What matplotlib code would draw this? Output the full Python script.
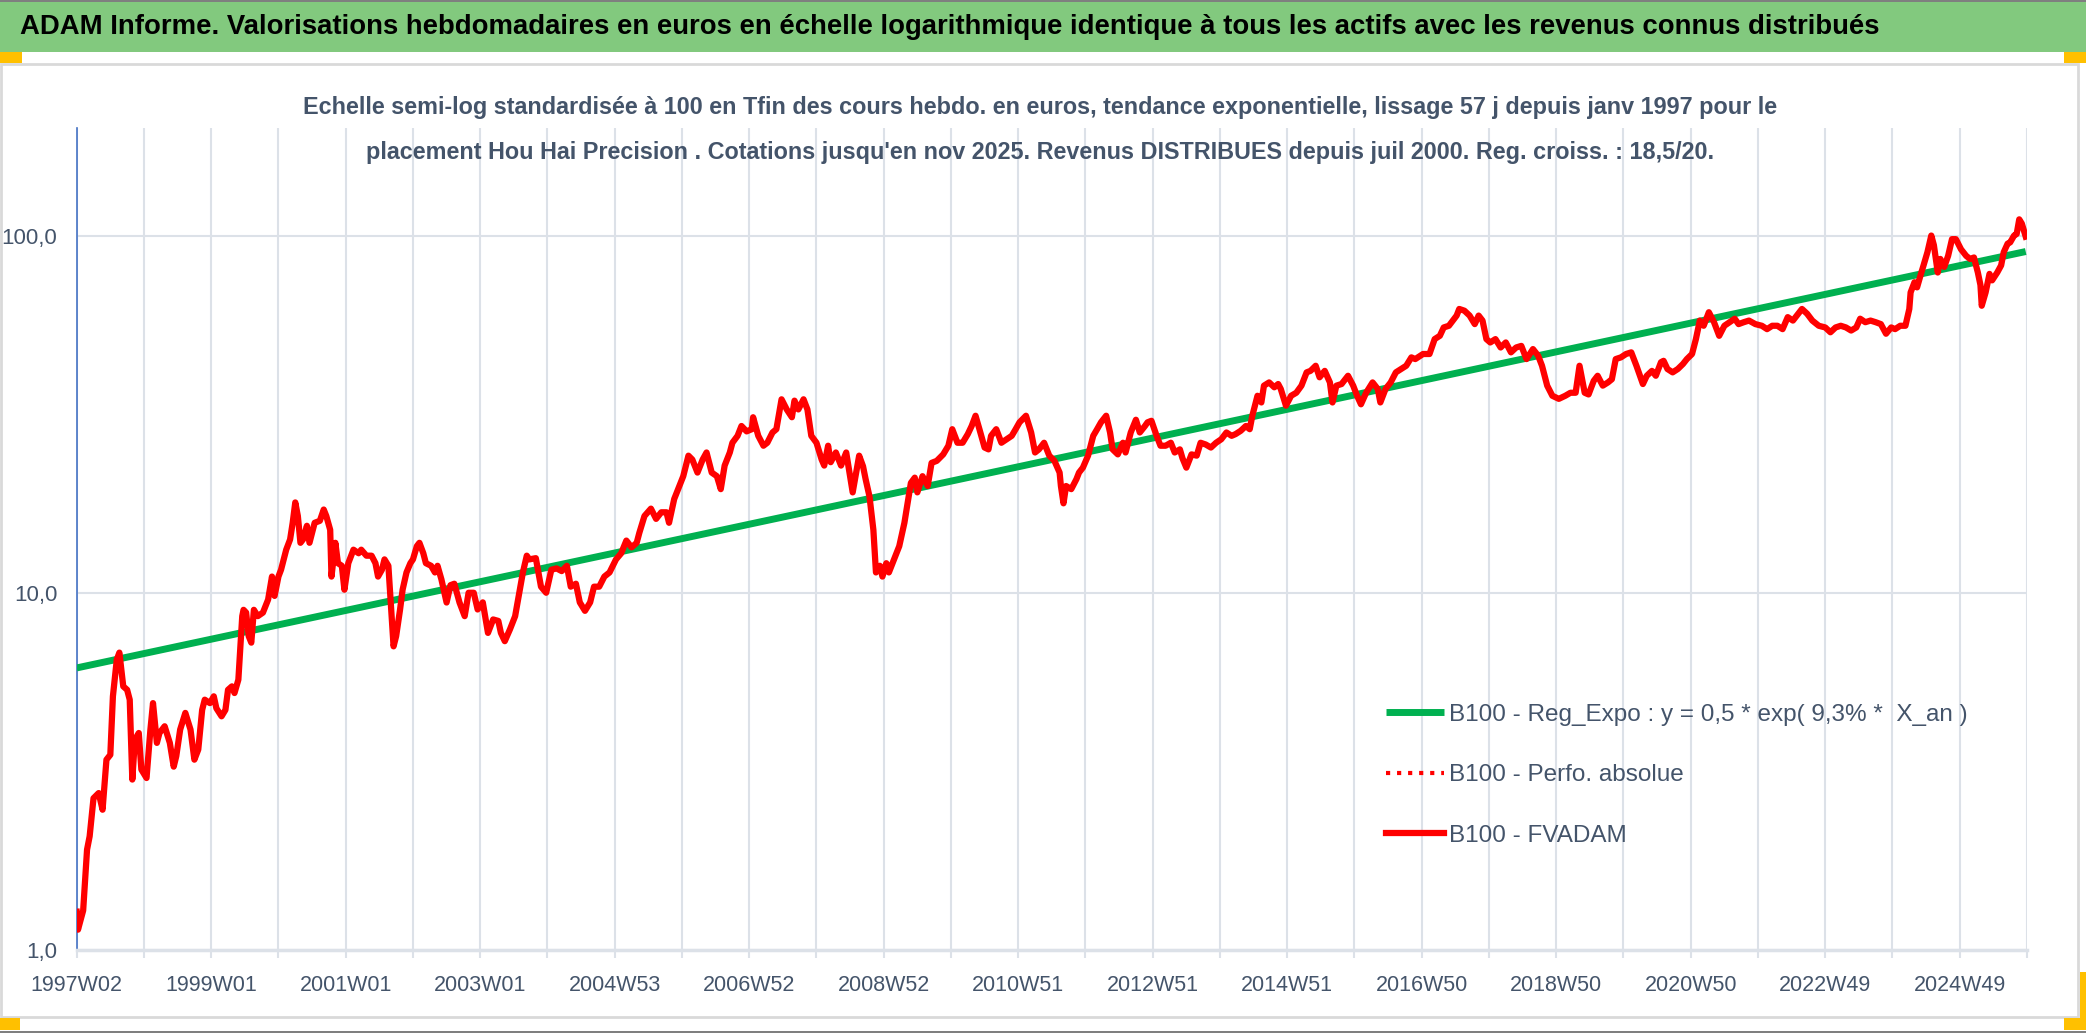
import matplotlib
matplotlib.use("Agg")
import matplotlib.pyplot as plt
from matplotlib.patches import Rectangle

plt.rcParams['font.family'] = ['Liberation Sans', 'DejaVu Sans']

# semaines (index depuis 1997W02) et valeurs
semaines = [0, 1, 5, 8, 10, 13, 17, 20, 23, 26, 28, 31, 33, 36, 39, 41, 43, 45, 48, 50,
            54, 57, 59, 62, 64, 68, 72, 75, 77, 80, 84, 88, 91, 94, 97, 99, 103, 106, 108, 112,
            115, 117, 120, 122, 125, 128, 129, 131, 133, 135, 137, 140, 144, 148, 151, 153, 156, 158, 162, 165,
            167, 169, 171, 173, 175, 178, 180, 184, 188, 191, 193, 196, 197, 200, 202, 205, 207, 210, 214, 218,
            220, 224, 228, 231, 233, 236, 238, 241, 243, 245, 247, 250, 252, 255, 258, 260, 263, 265, 268, 270,
            274, 277, 279, 282, 286, 289, 292, 296, 300, 303, 307,
            310, 314, 318, 322, 326, 328, 331, 335, 339, 343, 345, 348, 350, 355, 359, 363, 367, 371, 375, 379,
            382, 386, 389, 393, 397, 400, 404, 408, 412, 417, 421, 425, 429, 433, 435, 439, 444, 448, 452, 456,
            458, 462, 466, 469, 473, 476, 480, 484, 487, 491, 495, 498, 501, 505, 507, 511, 514, 518, 522, 523,
            527, 531, 534, 538, 541, 545, 549, 553, 555, 558, 562, 565, 568, 572, 576, 578, 581, 583, 587, 591,
            595, 600,
            605, 608, 610, 613, 616, 618, 621, 623, 626, 628, 632, 636, 640, 643, 645, 648, 650, 654, 658, 661,
            665, 670, 674, 677, 681, 685, 689, 692, 695, 698, 702, 705, 707, 711, 715, 719, 723, 726, 729, 734,
            738, 741, 744, 748, 752, 756, 760, 761, 763, 765, 769, 773, 775, 778, 782, 786, 789, 792, 796, 799,
            801, 805, 809, 811, 815, 819, 822, 826, 828, 831, 835, 838, 842, 846, 849, 853, 855, 858, 862, 866,
            869, 873, 877, 881, 885, 889, 893, 896, 900, 904,
            907, 909, 913, 916, 918, 922, 926, 929, 931, 935, 939, 943, 947, 951, 954, 958, 961, 965, 969, 971,
            974, 978, 983, 987, 990, 993, 997, 1002, 1006, 1008, 1012, 1016, 1020, 1024, 1028, 1032, 1035, 1041, 1046, 1050,
            1054, 1057, 1061, 1064, 1067, 1069, 1073, 1077, 1081, 1084, 1087, 1090, 1093, 1097, 1101, 1105, 1109, 1113, 1117, 1121,
            1126, 1130, 1133, 1137, 1141, 1146, 1151, 1155, 1159, 1162, 1166, 1169, 1173, 1176, 1180, 1184, 1187, 1190, 1194, 1198,
            1202, 1206,
            1211, 1214, 1218, 1221, 1225, 1227, 1230, 1234, 1238, 1242, 1245, 1249, 1252, 1255, 1258, 1262, 1266, 1270, 1274, 1278,
            1282, 1285, 1289, 1293, 1298, 1303, 1307, 1311, 1315, 1319, 1323, 1327, 1330, 1334, 1338, 1342, 1347, 1352, 1356, 1360,
            1364, 1368, 1372, 1376, 1379, 1383, 1387, 1391, 1395, 1399, 1403, 1406, 1410, 1414, 1417, 1418, 1421, 1423, 1426, 1428,
            1431, 1434, 1436, 1439, 1441, 1444, 1447, 1450, 1453, 1457, 1461, 1464, 1467, 1470, 1472, 1473, 1476, 1479, 1481, 1485,
            1488, 1490, 1493, 1495, 1498, 1500, 1502, 1504, 1507]

fvadam = [1.28, 1.14, 1.29, 1.91, 2.08, 2.66, 2.75, 2.47, 3.41, 3.52, 5.13, 6.5, 6.8, 5.47, 5.35, 5.02, 3.0, 3.88, 4.05, 3.2,
          3.03, 4.14, 4.91, 3.8, 4.05, 4.23, 3.8, 3.26, 3.49, 4.14, 4.61, 4.14, 3.41, 3.64, 4.7, 5.02, 4.91, 5.13, 4.75, 4.51,
          4.7, 5.35, 5.47, 5.24, 5.71, 8.6, 8.96, 8.8, 7.56, 7.25, 8.96, 8.6, 8.8, 9.57, 11.1, 9.8, 11.1, 11.6, 13.2, 14.1,
          15.7, 17.9, 16.4, 13.8, 14.1, 15.4, 13.8, 15.7, 15.9, 17.1, 16.4, 15.0, 11.1, 13.8, 12.1, 11.9, 10.2, 12.1, 13.2, 12.9,
          13.2, 12.7, 12.7, 12.1, 11.1, 11.6, 12.4, 11.9, 9.18, 7.08, 7.56, 8.96, 10.2, 11.4, 12.1, 12.4, 13.5, 13.8, 12.9, 12.1,
          11.9, 11.4, 11.9, 10.9, 9.39, 10.5, 10.6, 9.39, 8.6, 10.0, 10.0,
          8.98, 9.4, 7.72, 8.42, 8.34, 7.72, 7.32, 7.9, 8.6, 10.4, 11.4, 12.7, 12.4, 12.5, 10.4, 10.0, 11.6, 11.7, 11.5, 11.9,
          10.4, 10.6, 9.4, 8.9, 9.4, 10.4, 10.4, 11.1, 11.4, 12.4, 12.9, 14.0, 13.4, 13.8, 14.7, 16.4, 17.2, 16.1, 16.8, 16.8,
          15.7, 18.3, 19.9, 21.2, 24.2, 23.6, 21.7, 23.6, 24.7, 21.7, 21.2, 19.5, 22.7, 24.7, 26.3, 27.5, 29.3, 28.3, 28.7, 31.0,
          27.5, 25.8, 26.3, 28.1, 28.7, 34.8, 32.6, 31.0, 34.5, 32.6, 34.8, 32.6, 27.5, 26.3, 23.6, 22.7, 25.8, 23.2, 24.7, 22.7,
          24.7, 19.1,
          24.2, 22.6, 20.8, 18.6, 15.0, 11.4, 11.9, 11.1, 12.1, 11.4, 12.4, 13.5, 15.7, 18.3, 20.3, 21.0, 19.1, 21.2, 19.9, 23.1,
          23.4, 24.4, 25.8, 28.7, 26.3, 26.3, 27.8, 29.3, 31.3, 28.7, 25.5, 25.2, 27.5, 28.7, 26.3, 26.9, 27.5, 28.7, 30.0, 31.3,
          28.1, 24.7, 25.2, 26.3, 24.2, 23.4, 21.7, 19.9, 17.8, 19.9, 19.5, 20.8, 21.7, 22.4, 24.2, 27.5, 28.7, 30.0, 31.3, 28.1,
          25.2, 24.4, 26.3, 24.7, 28.1, 30.5, 28.1, 29.3, 30.0, 30.3, 27.5, 25.8, 25.8, 26.3, 24.7, 25.2, 23.8, 22.4, 24.4, 24.2,
          26.3, 26.0, 25.5, 26.3, 26.9, 28.1, 27.5, 27.8, 28.4, 29.3,
          28.7, 31.3, 35.6, 34.1, 38.0, 38.8, 37.6, 38.4, 37.2, 33.4, 35.6, 36.3, 38.0, 41.4, 41.8, 43.2, 40.1, 41.8, 38.8, 34.1,
          38.0, 38.4, 40.5, 38.0, 35.6, 33.7, 36.3, 38.8, 37.2, 34.1, 37.2, 38.8, 41.4, 42.3, 43.2, 45.6, 45.1, 46.6, 46.6, 51.3,
          52.4, 55.3, 55.9, 57.8, 59.7, 62.3, 61.6, 59.7, 56.5, 59.7, 57.8, 51.3, 50.2, 51.3, 48.6, 50.2, 47.1, 48.6, 49.1, 45.1,
          48.1, 46.1, 43.2, 38.0, 35.6, 34.9, 35.6, 36.3, 36.3, 43.2, 36.3, 35.9, 39.2, 40.5, 38.0, 38.8, 39.6, 45.1, 45.6, 46.6,
          47.1, 43.2,
          38.4, 40.5, 41.8, 40.5, 44.2, 44.6, 42.3, 41.4, 42.3, 43.7, 45.1, 46.6, 51.3, 57.8, 55.9, 61.0, 57.2, 52.4, 55.9, 57.2,
          58.5, 56.5, 57.2, 57.8, 56.5, 55.9, 54.7, 55.9, 55.9, 54.7, 59.1, 57.8, 59.7, 62.3, 60.4, 57.8, 55.9, 55.3, 53.6, 55.3,
          55.9, 55.3, 54.2, 55.3, 58.5, 57.2, 57.8, 57.2, 56.5, 53.1, 55.3, 54.7, 55.9, 55.9, 62.3, 69.3, 74.0, 71.6, 78.1, 82.5,
          89.8, 100.0, 94.0, 78.8, 86.0, 81.7, 87.7, 97.7, 97.7, 91.5, 87.7, 86.0, 86.8, 78.8, 72.7, 63.6, 69.3, 78.1, 74.9, 78.8,
          82.5, 89.8, 94.9, 95.7, 100.0, 101.0, 111.0, 108.0, 99.3]

tendance_x = [0, 1507]
tendance_y = [6.16, 90.2]

etiquettes_x = ['1997W02', '1999W01', '2001W01', '2003W01', '2004W53', '2006W52', '2008W52',
                '2010W51', '2012W51', '2014W51', '2016W50', '2018W50', '2020W50', '2022W49', '2024W49']

titre = ("ADAM Informe. Valorisations hebdomadaires en euros en échelle logarithmique "
         "identique à tous les actifs avec les revenus connus distribués")
sous_titre = ("Echelle semi-log standardisée à 100 en Tfin des cours hebdo. en euros, tendance exponentielle, "
              "lissage 57 j depuis janv 1997 pour le\nplacement Hou Hai Precision . Cotations jusqu'en nov 2025. "
              "Revenus DISTRIBUES depuis juil 2000. Reg. croiss. : 18,5/20.")

W, H = 2086, 1033
fig = plt.figure(figsize=(W / 100, H / 100), dpi=100)


def boite(x0, y0, x1, y1, **kw):
    # coordonnees en pixels depuis le haut de l'image
    fig.add_artist(Rectangle((x0 / W, 1 - y1 / H), (x1 - x0) / W, (y1 - y0) / H,
                             transform=fig.transFigure, zorder=-5, **kw))


boite(0, 0, W, 52, facecolor='#82C97E', edgecolor='none')
boite(0, 0, W, 2, facecolor='#7F7F7F', edgecolor='none')
boite(0, 1031, W, H, facecolor='#7F7F7F', edgecolor='none')
boite(1, 64, 2078, 1017, facecolor='white', edgecolor='#D9D9D9', linewidth=2)
for b in [(0, 52, 22, 63), (2064, 52, 2086, 63), (0, 1018, 20, 1030),
          (2064, 1018, 2086, 1030), (2080, 972, 2086, 1030)]:
    boite(*b, facecolor='#FFC000', edgecolor='none')

fig.text(20 / W, 1 - 27 / H, titre, fontsize=19.8, fontweight='bold', color='black',
         ha='left', va='center')
fig.text(1040 / W, 1 - 130 / H, sous_titre, fontsize=16.8, fontweight='bold', color='#44546A',
         ha='center', va='center', linespacing=2.2)

ax = fig.add_axes([76.7 / W, 1 - 950 / H, (2027 - 76.7) / W, (950 - 128) / H])
ax.set_facecolor('none')

ax.plot(tendance_x, tendance_y, color='#00B050', linewidth=5, solid_capstyle='butt', zorder=3,
        label='B100 - Reg_Expo : y = 0,5 * exp( 9,3% *  X_an )')
ax.plot(semaines, fvadam, color='red', linewidth=3, linestyle=':', zorder=3.5,
        label='B100 - Perfo. absolue')
ax.plot(semaines, fvadam, color='red', linewidth=4.5, solid_joinstyle='round', zorder=4,
        label='B100 - FVADAM')

ax.set_yscale('log')
ax.set_ylim(1, 200)
ax.set_xlim(0, 1508)
ax.set_yticks([1, 10, 100])
ax.set_yticklabels(['1,0', '10,0', '100,0'])
ax.yaxis.set_minor_locator(matplotlib.ticker.NullLocator())

grille = list(range(0, 1509, 52))
ax.set_xticks(grille)
ax.set_xticklabels([etiquettes_x[i // 2] if i % 2 == 0 and i // 2 < len(etiquettes_x) else ''
                    for i in range(len(grille))])
ax.grid(True, color='#DCE1E8', linewidth=1.5, zorder=0)
ax.set_axisbelow(True)

ax.tick_params(axis='x', length=6, width=1.5, color='#DCE1E8', labelsize=15.5,
               labelcolor='#44546A', pad=12)
ax.tick_params(axis='y', length=0, labelsize=16, labelcolor='#44546A', pad=14)
for s in ['top', 'right']:
    ax.spines[s].set_visible(False)
ax.spines['left'].set_color('#4472C4')
ax.spines['left'].set_linewidth(1.2)
ax.spines['bottom'].set_color('#DCE1E8')
ax.spines['bottom'].set_linewidth(2.5)

ax.legend(loc='upper left', bbox_to_anchor=(1364 / W, 1 - 682 / H), bbox_transform=fig.transFigure,
          frameon=False, fontsize=17.5, labelcolor='#44546A', handlelength=2.4, handletextpad=0.2,
          labelspacing=1.58)

fig.savefig('out.png', dpi=100)
